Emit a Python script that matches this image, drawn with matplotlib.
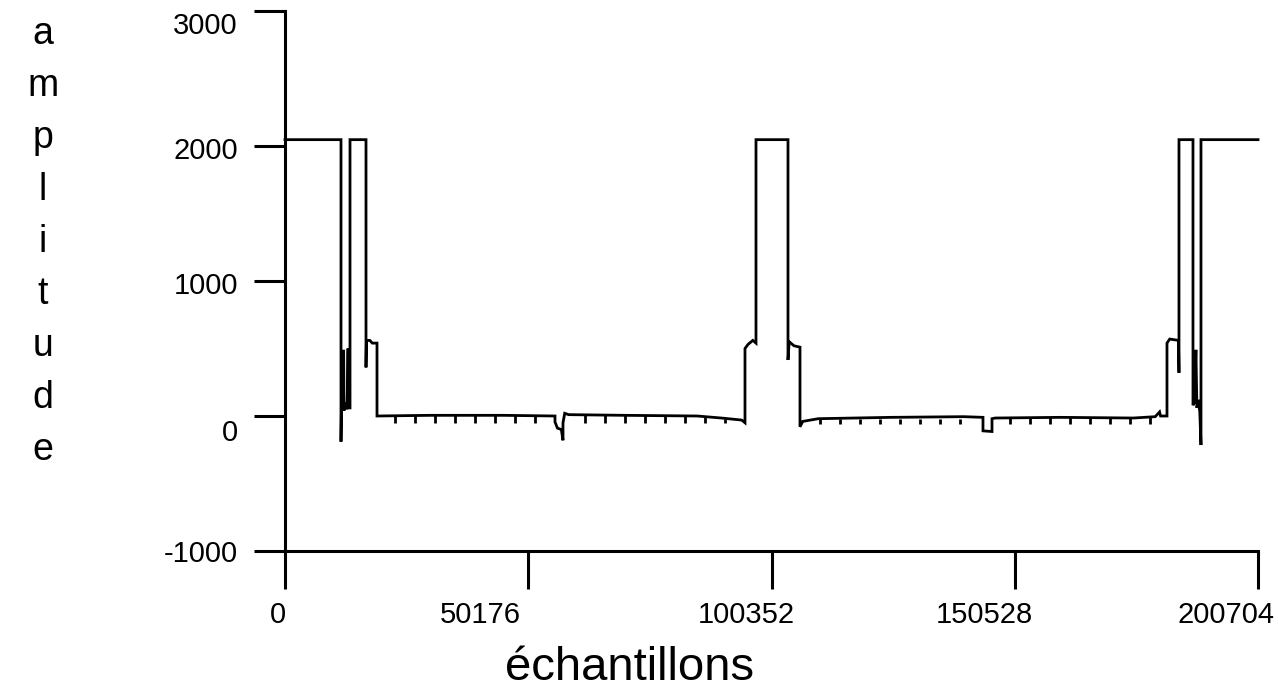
import matplotlib
matplotlib.use("Agg")
import matplotlib.pyplot as plt
from matplotlib.transforms import ScaledTranslation

plt.rcParams['font.family'] = ['Liberation Sans', 'DejaVu Sans']

# Signal vertices (sample index, amplitude)
sig_x = [0, 11551, 11551, 11650, 11900, 12100, 12170, 12500, 12800, 13000, 13100, 13408,
         13408, 16708, 16708, 16800, 17500, 18000, 18977,
         18977, 30000, 45000, 55693, 55693, 56200, 57000, 57343, 57343, 57700, 58500,
         70000, 85000, 90000, 94200, 94884,
         94884, 95500, 96500, 97153, 97153, 103754, 103754, 104000, 105000, 106229,
         106229, 106800, 110000, 125000, 140000, 143976, 143976, 145833, 145833, 146500,
         160000, 175000, 179500, 180400, 180600, 181930,
         181930, 182500, 184300, 184405, 184405, 187293, 187293, 187600, 187900, 188100,
         188400, 188700, 188943, 188943, 200704]
sig_y = [2047, 2047, -190, 80, 60, 490, 40, 100, 50, 500, 60, 60,
         2047, 2047, 360, 560, 560, 540, 540,
         0, 5, 5, 0, -45, -90, -100, -180, -50, 20, 10,
         5, 0, -15, -30, -50,
         500, 530, 560, 540, 2047, 2047, 415, 550, 520, 510,
         -80, -40, -20, -10, -5, -10, -110, -115, -20, -15,
         -10, -15, -5, 30, 0, 0,
         540, 570, 560, 320, 2047, 2047, 80, 100, 490, 60,
         120, 30, -215, 2047, 2047]

# Small downward block-marker spikes along the baseline
spike_x = [22690, 26815, 30941, 35066, 39191, 43317, 47442, 51568,
           61881, 66006, 70132, 74257, 78383, 82508, 86633, 90759,
           110354, 114480, 118605, 122731, 126856, 130982, 135107, 139232,
           149546, 153671, 157797, 161922, 166048, 170173, 174299, 178424]
spike_top = [5] * 8 + [5] * 6 + [-10, -20] + [-20] * 8 + [-10] * 8
spike_bottom = [-50] * 16 + [-60] * 16

x_ticks = [0, 50176, 100352, 150528, 200704]
y_ticks = [-1000, 0, 1000, 2000, 3000]

fig = plt.figure(figsize=(12.78, 6.99), dpi=100)
ax = fig.add_axes([285 / 1278, 1 - 551 / 699, (1258 - 285) / 1278, (551 - 11) / 699])

ax.plot(sig_x, sig_y, color='black', lw=2.0, solid_joinstyle='miter', clip_on=False)
ax.vlines(spike_x, spike_bottom, spike_top, color='black', lw=2.0)

ax.set_xlim(0, 200704)
ax.set_ylim(-1000, 3000)
ax.set_xticks(x_ticks)
ax.set_xticklabels([str(t) for t in x_ticks])
ax.set_yticks(y_ticks)
ax.set_yticklabels([str(t) for t in y_ticks])

for s in ['top', 'right']:
    ax.spines[s].set_visible(False)
for s in ['left', 'bottom']:
    ax.spines[s].set_linewidth(2.2)

ax.tick_params(axis='x', direction='out', length=27, width=2.2, pad=9, labelsize=21)
ax.tick_params(axis='y', direction='out', length=22, width=2.2, pad=12, labelsize=21)

# label placement as in the original typesetting (pixel offsets)
x_off = [-7, -48, -25, -30, -32]
for lbl, off in zip(ax.get_xticklabels(), x_off):
    lbl.set_transform(lbl.get_transform() + ScaledTranslation(off / 100, 0, fig.dpi_scale_trans))
y_off = [0, -14, -2, -2, -12]
for lbl, off in zip(ax.get_yticklabels(), y_off):
    lbl.set_transform(lbl.get_transform() + ScaledTranslation(0, off / 100, fig.dpi_scale_trans))

fig.text(630 / 1278, 1 - 668 / 699, 'échantillons', fontsize=34, ha='center', va='center')
fig.text(43 / 1278, 1 - 242 / 699, '\n'.join('amplitude'), fontsize=27, ha='center',
         va='center', multialignment='center', linespacing=1.57)

fig.savefig('out.png', dpi=100)
